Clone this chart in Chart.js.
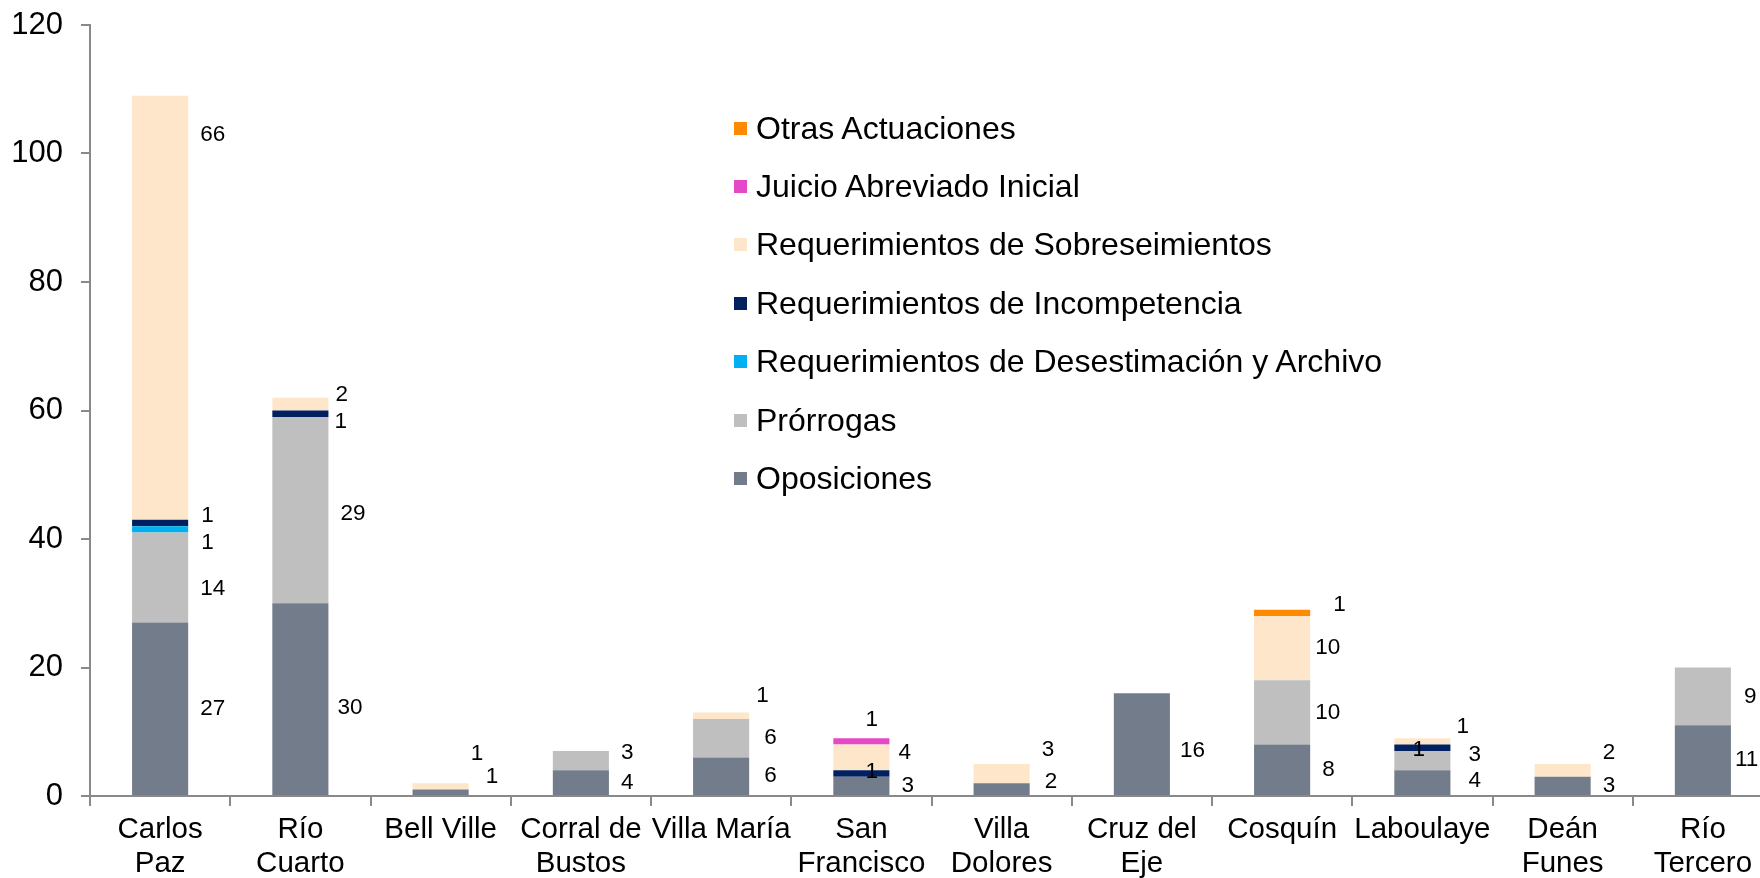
<!DOCTYPE html>
<html>
<head>
<meta charset="utf-8">
<script src="https://cdn.jsdelivr.net/npm/chart.js@4/dist/chart.umd.min.js"></script>
<style>
    html, body { margin: 0; padding: 0; background: #ffffff; overflow: hidden; }
    #wrap { position: relative; width: 1773px; height: 900px; }
    #legend { position: absolute; left: 734px; top: 99px; font-family: "Liberation Sans", Arial, sans-serif; font-size: 32px; color: #000; }
    .item { height: 58.4px; display: flex; align-items: center; white-space: nowrap; }
    .box { width: 13px; height: 13px; margin-right: 9px; flex: none; }
</style>
</head>
<body>
<div id="wrap">
    <canvas id="mainChart" width="1773" height="900"></canvas>
    <div id="legend"></div>
</div>
<script>
const categories = [
    ['Carlos', 'Paz'], ['Río', 'Cuarto'], 'Bell Ville', ['Corral de', 'Bustos'], 'Villa María',
    ['San', 'Francisco'], ['Villa', 'Dolores'], ['Cruz del', 'Eje'], 'Cosquín', 'Laboulaye',
    ['Deán', 'Funes'], ['Río', 'Tercero']
];
const oposiciones     = [27, 30, 1, 4, 6, 3, 2, 16, 8, 4, 3, 11];
const prorrogas       = [14, 29, 0, 3, 6, 0, 0, 0, 10, 3, 0, 9];
const desestimacion   = [1, 0, 0, 0, 0, 0, 0, 0, 0, 0, 0, 0];
const incompetencia   = [1, 1, 0, 0, 0, 1, 0, 0, 0, 1, 0, 0];
const sobreseimientos = [66, 2, 1, 0, 1, 4, 3, 0, 10, 1, 2, 0];
const juicioAbreviado = [0, 0, 0, 0, 0, 1, 0, 0, 0, 0, 0, 0];
const otras           = [0, 0, 0, 0, 0, 0, 0, 0, 1, 0, 0, 0];
const yTicks = [0, 20, 40, 60, 80, 100, 120];

const seriesNames = [
    'Oposiciones', 'Prórrogas', 'Requerimientos de Desestimación y Archivo',
    'Requerimientos de Incompetencia', 'Requerimientos de Sobreseimientos',
    'Juicio Abreviado Inicial', 'Otras Actuaciones'
];
const seriesValues = [oposiciones, prorrogas, desestimacion, incompetencia, sobreseimientos, juicioAbreviado, otras];
const seriesColors = ['#727c8a', '#bfbfbf', '#00b0f0', '#002060', '#fee6cb', '#e649c7', '#ff8a00'];

// hand-placed label nudges, [dx, dy] in px, keyed "series,category"
const labelNudge = {
    '0,1': [-3, 9], '0,2': [5, -15], '0,4': [3, 0], '0,6': [3, -7], '0,7': [-2, 7], '0,9': [6, -2], '0,11': [-8, 0],
    '1,0': [0, 11], '1,1': [0, 4], '1,3': [0, -8], '1,4': [3, 0], '1,8': [-7, 0], '1,9': [6, -6], '1,11': [1, 0],
    '2,0': [1, 13],
    '3,0': [1, -7], '3,1': [-6, 8], '3,5': [-36, -2], '3,9': [-50, 2],
    '4,0': [0, -173], '4,1': [-5, -9], '4,2': [-10, -33], '4,4': [-5, -20], '4,5': [-3, -5],
    '4,6': [0, -24], '4,8': [-7, 0], '4,9': [-6, -15], '4,10': [0, -18],
    '5,5': [-36, -22],
    '6,8': [11, -8]
};

const barLabels = {
    id: 'barLabels',
    afterDatasetsDraw(chart) {
        const ctx = chart.ctx;
        ctx.save();
        ctx.font = '22.5px "Liberation Sans", Arial, sans-serif';
        ctx.fillStyle = '#000000';
        ctx.textAlign = 'left';
        ctx.textBaseline = 'middle';
        chart.data.datasets.forEach((ds, s) => {
            const meta = chart.getDatasetMeta(s);
            meta.data.forEach((bar, i) => {
                const v = ds.data[i];
                if (!v) return;
                const nudge = labelNudge[s + ',' + i] || [0, 0];
                const x = bar.x + bar.width / 2 + 12 + nudge[0];
                const y = (bar.y + bar.base) / 2 + nudge[1];
                ctx.fillText(String(v), x, y);
            });
        });
        ctx.restore();
    }
};

function renderChart() {
    const ctx = document.getElementById('mainChart').getContext('2d');
    const datasets = seriesNames.map((name, s) => ({
        label: name,
        data: seriesValues[s],
        backgroundColor: seriesColors[s],
        borderWidth: 0,
        categoryPercentage: 1,
        barPercentage: 0.4
    }));

    const chart = new Chart(ctx, {
        type: 'bar',
        data: { labels: categories, datasets: datasets },
        options: {
            responsive: false,
            devicePixelRatio: 1,
            animation: false,
            layout: { padding: { top: 25, right: 0, left: 0, bottom: 0 } },
            plugins: {
                legend: { display: false },
                tooltip: { enabled: false }
            },
            scales: {
                x: {
                    stacked: true,
                    afterFit: (scale) => {
                        scale.height = 104;
                        scale.paddingLeft = 0;
                        scale.paddingRight = 0;
                    },
                    border: { color: '#898989', width: 2 },
                    grid: { offset: true, drawOnChartArea: false, drawTicks: true, tickLength: 10, color: '#898989', lineWidth: 2 },
                    ticks: {
                        color: '#000000',
                        maxRotation: 0,
                        autoSkip: false,
                        padding: 7,
                        font: { family: '"Liberation Sans", Arial, sans-serif', size: 29.5, lineHeight: 1.15 }
                    }
                },
                y: {
                    stacked: true,
                    min: 0,
                    max: 120,
                    afterFit: (scale) => {
                        scale.width = 90;
                        scale.paddingTop = 0;
                        scale.paddingBottom = 0;
                    },
                    afterBuildTicks: (scale) => { scale.ticks = yTicks.map(v => ({ value: v })); },
                    border: { color: '#898989', width: 2 },
                    grid: { drawOnChartArea: false, drawTicks: true, tickLength: 9, color: '#898989', lineWidth: 2 },
                    ticks: {
                        color: '#000000',
                        padding: 18,
                        font: { family: '"Liberation Sans", Arial, sans-serif', size: 31 }
                    }
                }
            }
        },
        plugins: [barLabels]
    });

    // legend, top item first as in the original (reverse stack order)
    const legend = document.getElementById('legend');
    chart.data.datasets.slice().reverse().forEach(ds => {
        const item = document.createElement('div');
        item.className = 'item';
        const box = document.createElement('span');
        box.className = 'box';
        box.style.background = ds.backgroundColor;
        const text = document.createElement('span');
        text.textContent = ds.label;
        item.appendChild(box);
        item.appendChild(text);
        legend.appendChild(item);
    });
}

renderChart();
</script>
</body>
</html>
